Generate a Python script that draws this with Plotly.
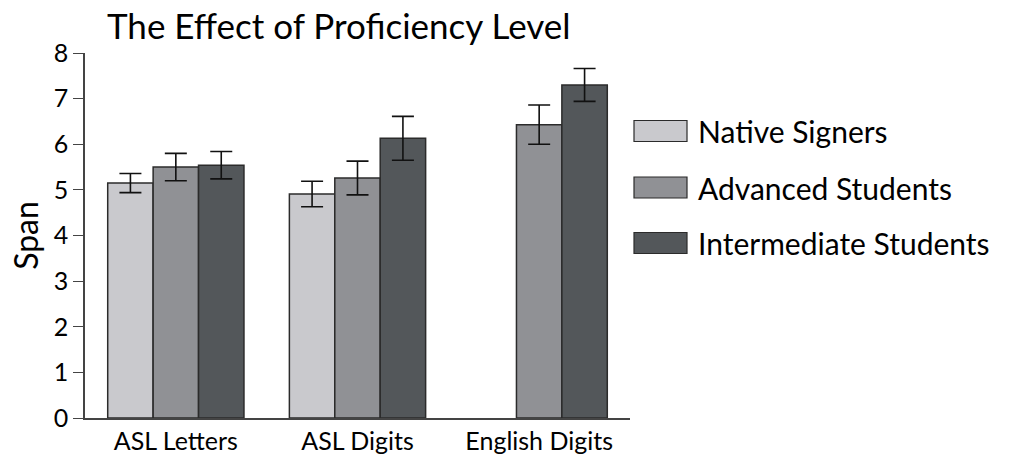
import plotly.graph_objects as go

# Memory span by stimulus type and signing proficiency
categories = ["ASL Letters", "ASL Digits", "English Digits"]
series_names = ["Native Signers", "Advanced Students", "Intermediate Students"]
native_span = [5.15, 4.91, None]
advanced_span = [5.50, 5.26, 6.43]
intermediate_span = [5.54, 6.13, 7.30]
native_err = [0.21, 0.28, None]
advanced_err = [0.30, 0.37, 0.43]
intermediate_err = [0.30, 0.48, 0.36]
y_ticks = [0, 1, 2, 3, 4, 5, 6, 7, 8]

colors = ["#c9c9cd", "#909195", "#53575a"]
FONT = "Lato"

W, H = 1014, 462
L, R, T, B = 85, 384, 53, 44


def px_x(x):
    return (x - L) / (W - L - R)


def px_y(y):
    return (H - B - y) / (H - T - B)


fig = go.Figure()
for name, vals, errs, col in zip(series_names,
                                 [native_span, advanced_span, intermediate_span],
                                 [native_err, advanced_err, intermediate_err],
                                 colors):
    fig.add_trace(go.Bar(
        x=categories, y=vals, name=name,
        marker=dict(color=col, line=dict(color="#2b2b2b", width=1.5)),
        error_y=dict(type="data", array=errs, visible=True,
                     color="#111111", thickness=1.6, width=11),
        showlegend=False,
    ))

# Legend drawn as wide swatches beside the plot
legend_rows = [131, 187.5, 243]
for name, col, yc in zip(series_names, colors, legend_rows):
    fig.add_shape(type="rect", xref="paper", yref="paper",
                  x0=px_x(634), x1=px_x(687),
                  y0=px_y(yc + 10.5), y1=px_y(yc - 10.5),
                  fillcolor=col, line=dict(color="#2b2b2b", width=1.2))
    fig.add_annotation(text=name, xref="paper", yref="paper",
                       x=px_x(696), y=px_y(yc), xanchor="left", yanchor="middle",
                       showarrow=False, font=dict(family=FONT, size=30, color="#000"))

fig.update_layout(
    width=W, height=H,
    margin=dict(l=L, r=R, t=T, b=B, pad=0, autoexpand=False),
    paper_bgcolor="white", plot_bgcolor="white",
    barmode="group", bargap=0.25, bargroupgap=0,
    title=dict(text="The Effect of Proficiency Level", x=107 / W,
               xanchor="left", y=1 - 27 / H, yanchor="middle",
               font=dict(family=FONT, size=35, color="#000")),
    font=dict(family=FONT, color="#000"),
    xaxis=dict(range=[-0.5, 2.5], showline=True, linecolor="#444", linewidth=1.5,
               ticks="", tickfont=dict(size=25, family=FONT), showgrid=False,
               zeroline=False, fixedrange=True, automargin=False),
    yaxis=dict(range=[0, 8], tickvals=y_ticks, showline=True, linecolor="#444",
               linewidth=1.5, ticks="outside", ticklen=10, tickcolor="#444",
               tickwidth=1.2, tickfont=dict(size=25, family=FONT),
               showgrid=False, zeroline=False, automargin=False,
               title=dict(text="Span", font=dict(size=32, family=FONT), standoff=6)),
)

fig.write_html("out.html")
